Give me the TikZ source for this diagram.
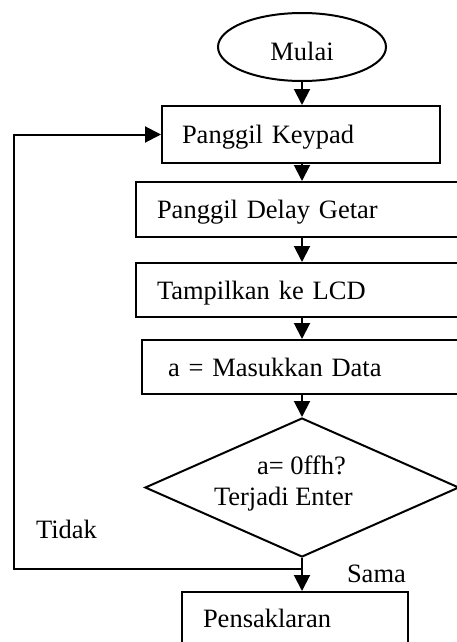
\documentclass[tikz,border=0pt]{standalone}
\usepackage{fontspec}
\setmainfont{Liberation Serif}
\usetikzlibrary{arrows.meta,shapes.geometric}
\begin{document}
\begin{tikzpicture}[x=1pt,y=-1pt,
  font=\fontsize{26.5pt}{31pt}\selectfont,
  line width=2pt,
  arr/.style={-{Triangle[length=16pt,width=16pt]}},
  procbox/.style={draw, rectangle, align=left, inner ysep=0pt,
     text height=18pt, text depth=0pt},
  lbl/.style={anchor=base west, inner sep=0pt}]
\useasboundingbox (0,0) rectangle (457,642);
\clip (0,0) rectangle (457,642);
\node[draw, ellipse, minimum width=168pt, minimum height=68pt, inner sep=0pt,
  text height=26pt, text depth=0pt] (start) at (302,47) {Mulai};
\node[procbox, minimum height=57pt, inner xsep=20pt, text width=238pt] (b1) at (301,134.5) {Panggil Keypad};
\node[procbox, minimum height=55pt, inner xsep=21pt, text width=292pt] (b2) at (303,209.5) {Panggil Delay Getar};
\node[procbox, minimum height=54pt, inner xsep=21pt, text width=292pt] (b3) at (303,290) {Tampilkan ke LCD};
\node[procbox, minimum height=54pt, inner xsep=26pt, text width=276pt] (b4) at (306,367) {a = Masukkan Data};
\node[draw, diamond, minimum width=314pt, minimum height=139pt, inner sep=0pt, shape aspect=2.26] (dec) at (302,487.5) {};
\node[lbl] (d1) at (256,474) {a= 0ffh?};
\node[lbl] (d2) at (213,505) {Terjadi Enter};
\node[procbox, minimum height=52pt, inner xsep=21pt, text width=184pt] (b5) at (295,618) {Pensaklaran};
\node[lbl] (tidak) at (35,538) {Tidak};
\node[lbl] (sama) at (346,582) {Sama};
\coordinate (j) at (302,569);
\coordinate (lp) at (14,134.5);
\draw[arr] (start.south) -- (start.south |- b1.north);
\draw[arr] (b1.south -| start) -- (b2.north -| start);
\draw[arr] (b2.south -| start) -- (b3.north -| start);
\draw[arr] (b3.south -| start) -- (b4.north -| start);
\draw[arr] (b4.south -| start) -- (dec.north);
\draw (dec.south) -- (j);
\draw[arr] (j) -- (b5.north -| j);
\draw[arr] (j) -| (lp) -- (b1.west);
\end{tikzpicture}
\end{document}
